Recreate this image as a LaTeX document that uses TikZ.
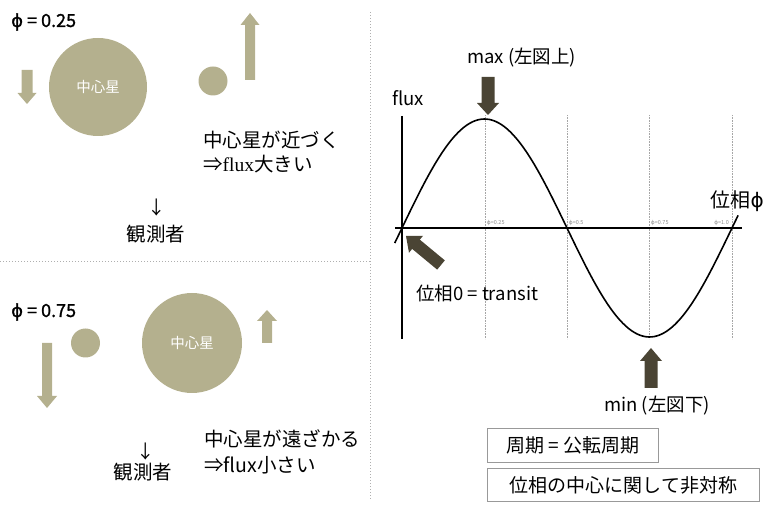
\documentclass[tikz,border=0pt]{standalone}
\usepackage{fontspec}
\setmainfont{Noto Sans CJK JP}
\newfontfamily\djv{DejaVu Sans}
\newfontfamily\semib[FakeBold=1.3]{Noto Sans CJK JP}
\newfontfamily\djvb[FakeBold=1.3]{DejaVu Sans}
\newfontfamily\lserif{Liberation Serif}
\usetikzlibrary{calc}
\definecolor{olivec}{RGB}{180,176,142}
\definecolor{darkarr}{RGB}{74,68,52}
\definecolor{sepgray}{RGB}{175,175,175}
% #1 colour, #2 tail, #3 tip, #4 shaft half width, #5 head half width, #6 head length
\newcommand\blkarrow[6]{%
  \coordinate (bah) at ($(#3)!#6!(#2)$);
  \fill[#1] ($(#2)!#4!90:(#3)$) -- ($(bah)!#4!-90:(#2)$) -- ($(bah)!#5!-90:(#2)$)
    -- (#3) -- ($(bah)!#5!90:(#2)$) -- ($(bah)!#4!90:(#2)$) -- ($(#2)!#4!-90:(#3)$) -- cycle;}
\tikzset{
  sep/.style={sepgray, dotted, line width=1pt},
  star/.style={circle, fill=olivec, inner sep=0pt, text=white, font=\fontsize{14.5}{16}\selectfont},
  jtext/.style={anchor=west, inner sep=0pt, font=\fontsize{19.5}{22}\selectfont},
  lbl/.style={inner sep=0pt, font=\fontsize{18.5}{21}\selectfont},
  phil/.style={anchor=west, inner sep=0pt, font=\fontsize{18}{20}\selectfont\semib},
  tiny/.style={inner sep=0pt, font=\fontsize{5.5}{6}\selectfont, text=gray!90},
  guide/.style={gray!70, densely dotted, line width=0.6pt},
  infobox/.style={draw=gray!80, line width=0.8pt, inner sep=0pt, font=\fontsize{19}{22}\selectfont, anchor=north west}
}
\begin{document}
\begin{tikzpicture}[x=1pt,y=-1pt]
\useasboundingbox (0,0) rectangle (764,505);
% separators
\draw[sep] (370,12) -- (370,500);
\draw[sep] (0,262) -- (370,262);

% ---------- top-left panel (phase 0.25)
\node[phil] (p25) at (11,22) {{\djvb ϕ} = 0.25};
\node[star, minimum size=98pt] (star1) at (98,87) {中心星};
\node[star, minimum size=29pt] (pl1) at (213,81) {};
\coordinate (a1t) at (27,70); \coordinate (a1h) at (27,104);
\blkarrow{olivec}{a1t}{a1h}{5.5pt}{9.5pt}{11pt}
\coordinate (a2t) at (250,80); \coordinate (a2h) at (250,13);
\blkarrow{olivec}{a2t}{a2h}{5pt}{9.5pt}{12pt}
\node[jtext] (t1a) at (203,140) {中心星が近づく};
\node[jtext] (t1b) at (203,164) {⇒{\lserif flux}大きい};
\node[lbl] (d1) at (157,208) {↓};
\node[jtext, anchor=center] (obs1) at (156,234) {観測者};

% ---------- bottom-left panel (phase 0.75)
\node[phil] (p75) at (11,312) {{\djvb ϕ} = 0.75};
\node[star, minimum size=29pt] (pl2) at (85.5,343) {};
\node[star, minimum size=100pt] (star2) at (192,343) {中心星};
\coordinate (a3t) at (47,343); \coordinate (a3h) at (47,408);
\blkarrow{olivec}{a3t}{a3h}{5pt}{10pt}{12pt}
\coordinate (a4t) at (267,343); \coordinate (a4h) at (267,310);
\blkarrow{olivec}{a4t}{a4h}{5pt}{10pt}{11pt}
\node[jtext] (t2a) at (204,439) {中心星が遠ざかる};
\node[jtext] (t2b) at (204,465) {⇒flux小さい};
\node[lbl] (d2) at (146,452) {↓};
\node[jtext, anchor=center] (obs2) at (143,472) {観測者};

% ---------- right panel: light curve
\foreach \gx/\gl in {485/0.25, 567/0.5, 649/0.75}{
  \draw[guide] (\gx,115) -- (\gx,339);
  \node[tiny, anchor=west] at (\gx+2,223) {{\djv ϕ}=\gl};
}
\draw[guide] (732,115) -- (732,339);
\node[tiny, anchor=east] (l10) at (729,223) {{\djv ϕ}=1.0};
\coordinate (ytop) at (402,116); \coordinate (ybot) at (402,339);
\coordinate (xl) at (395,228); \coordinate (xr) at (742,228);
\draw[line width=2pt] (ytop) -- (ybot);
\draw[line width=2pt] (xl) -- (xr);
\draw[line width=1.6pt] plot[domain=-0.022:1.02, samples=120, smooth] ({402+330*\x},{228-109*sin(360*\x)});
\node[lbl, anchor=west] (flux) at (392,98) {flux};
\node[lbl, anchor=east, font=\fontsize{20}{22}\selectfont] (phase) at (764,201) {位相{\djv ϕ}};
\node[lbl, anchor=west] (maxl) at (467,58) {max (左図上)};
\coordinate (m1t) at (488,77); \coordinate (m1h) at (488,115);
\blkarrow{darkarr}{m1t}{m1h}{6.5pt}{11pt}{12pt}
\coordinate (m2t) at (441,265); \coordinate (m2h) at (406,236);
\blkarrow{darkarr}{m2t}{m2h}{6pt}{11pt}{13pt}
\node[lbl, anchor=west] (trl) at (416,293) {位相0 = transit};
\coordinate (m3t) at (651,388); \coordinate (m3h) at (651,348);
\blkarrow{darkarr}{m3t}{m3h}{6.5pt}{11pt}{13pt}
\node[lbl, anchor=west] (minl) at (604,406) {min (左図下)};
\node[infobox, minimum width=171pt, minimum height=34pt] (box1) at (487,428) {周期 = 公転周期};
\node[infobox, minimum width=272pt, minimum height=33pt] (box2) at (487,468) {位相の中心に関して非対称};
\end{tikzpicture}
\end{document}
